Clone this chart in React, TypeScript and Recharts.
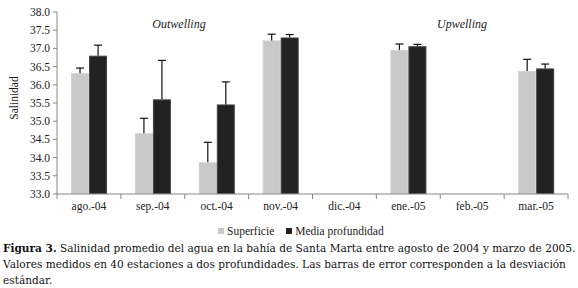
import { Bar, BarChart, Legend, XAxis, YAxis } from "recharts";

const months = ["ago.-04", "sep.-04", "oct.-04", "nov.-04", "dic.-04", "ene.-05", "feb.-05", "mar.-05"];
const superficie = [36.32, 34.67, 33.87, 37.22, null, 36.96, null, 36.38];
const superficieSd = [0.14, 0.41, 0.55, 0.17, null, 0.16, null, 0.32];
const media = [36.8, 35.6, 35.46, 37.3, null, 37.06, null, 36.45];
const mediaSd = [0.29, 1.07, 0.62, 0.08, null, 0.05, null, 0.12];
const yTicks = [33, 33.5, 34, 34.5, 35, 35.5, 36, 36.5, 37, 37.5, 38];

const Y_MIN = 33;
const SERIF = "Liberation Serif";

const data = months.map((month, i) => ({
  month,
  superficie: superficie[i],
  superficieSd: superficieSd[i],
  media: media[i],
  mediaSd: mediaSd[i],
}));

// bar with a one-sided (upper) error bar drawn from the bar's own scale
const barWithError = (sdKey: string, fill: string, stroke: string) => (props: any) => {
  const { x, y, width, height, payload, value } = props;
  const v = Array.isArray(value) ? value[1] : value;
  if (v == null || !height) return <g />;
  const pxPerUnit = height / (v - Y_MIN);
  const top = y - payload[sdKey] * pxPerUnit;
  const cx = x + width / 2;
  return (
    <g>
      <rect x={x + 0.5} y={y + 0.5} width={width - 1} height={height - 0.5} fill={fill} stroke={stroke} strokeWidth={1} />
      <line x1={cx} x2={cx} y1={y} y2={top} stroke="#111" strokeWidth={1.2} />
      <line x1={cx - 4} x2={cx + 4} y1={top} y2={top} stroke="#111" strokeWidth={1.2} />
    </g>
  );
};

const MonthTick = (props: any) => {
  const { x, y, payload, index } = props;
  const half = payload.offset || 0;
  return (
    <g>
      <line x1={x - half} x2={x - half} y1={y} y2={y + 5} stroke="#888" />
      {index === months.length - 1 && (
        <line x1={x + half} x2={x + half} y1={y} y2={y + 5} stroke="#888" />
      )}
      <text x={x} y={y + 16} textAnchor="middle" style={{ fontFamily: SERIF }} fontSize={11.5} fill="#222">
        {payload.value}
      </text>
    </g>
  );
};

const LegendContent = () => (
  <div style={{ display: "flex", fontFamily: SERIF, fontSize: 11.5, color: "#222", lineHeight: "14px" }}>
    <span style={{ display: "flex", alignItems: "center", marginRight: 12 }}>
      <span style={{ width: 6, height: 6, background: "#c9c9c9", marginRight: 3 }} />
      Superficie
    </span>
    <span style={{ display: "flex", alignItems: "center" }}>
      <span style={{ width: 6, height: 6, background: "#222", marginRight: 3 }} />
      Media profundidad
    </span>
  </div>
);

const noteStyle = {
  position: "absolute" as const,
  top: 17,
  fontFamily: SERIF,
  fontStyle: "italic",
  fontSize: 12,
  color: "#222",
  transform: "translateX(-50%)",
  whiteSpace: "nowrap" as const,
};

export default function App() {
  return (
    <div style={{ position: "absolute", left: 0, top: 0, width: 578, height: 288, background: "#fff", fontFamily: SERIF }}>
      <BarChart
        width={578}
        height={240}
        data={data}
        margin={{ top: 12, right: 10, left: 0, bottom: 0 }}
        barCategoryGap="22%"
        barGap={0}
        style={{ fontFamily: SERIF }}
      >
        <XAxis
          dataKey="month"
          height={30}
          axisLine={{ stroke: "#888" }}
          tickLine={false}
          tickSize={0}
          tickMargin={0}
          interval={0}
          tick={<MonthTick />}
        />
        <YAxis
          width={57}
          domain={[33, 38]}
          ticks={yTicks}
          allowDataOverflow
          axisLine={{ stroke: "#888" }}
          tickLine={{ stroke: "#888" }}
          tickSize={4}
          tickMargin={3}
          tickFormatter={(v: number) => v.toFixed(1)}
          tick={{ fill: "#222", fontSize: 11.5, style: { fontFamily: SERIF } }}
          label={(p: any) => {
            const vb = p.viewBox || {};
            const cx = 14;
            const cy = (vb.y || 12) + (vb.height || 182) / 2 - 5;
            return (
              <text x={cx} y={cy} transform={`rotate(-90 ${cx} ${cy})`} textAnchor="middle" dominantBaseline="central" style={{ fontFamily: SERIF }} fontSize={11.5} fill="#222">
                Salinidad
              </text>
            );
          }}
        />
        <Legend verticalAlign="bottom" height={16} content={<LegendContent />} wrapperStyle={{ left: 218, width: 200 }} />
        <Bar dataKey="superficie" name="Superficie" fill="#c9c9c9" isAnimationActive={false} shape={barWithError("superficieSd", "#c9c9c9", "#d2d2d2")} />
        <Bar dataKey="media" name="Media profundidad" fill="#222" isAnimationActive={false} shape={barWithError("mediaSd", "#222", "#444")} />
      </BarChart>
      <div style={{ ...noteStyle, left: 179 }}>Outwelling</div>
      <div style={{ ...noteStyle, left: 462 }}>Upwelling</div>
      <div
        style={{
          position: "absolute",
          left: 3,
          top: 240,
          fontFamily: "DejaVu Serif",
          fontSize: 10.55,
          lineHeight: "16px",
          color: "#111",
          whiteSpace: "nowrap",
        }}
      >
        <b>Figura 3.</b> Salinidad promedio del agua en la bahía de Santa Marta entre agosto de 2004 y marzo de 2005.
        <br />
        Valores medidos en 40 estaciones a dos profundidades. Las barras de error corresponden a la desviación
        <br />
        estándar.
      </div>
    </div>
  );
}
